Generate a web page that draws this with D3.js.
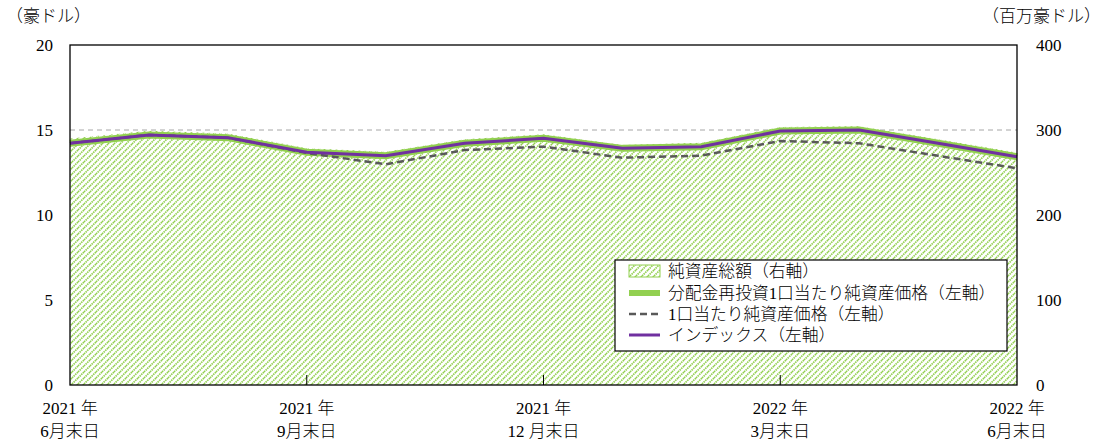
<!DOCTYPE html>
<html>
<head>
<meta charset="utf-8">
<script src="https://cdn.jsdelivr.net/npm/d3@7"></script>
<style>
  body { margin: 0; background: #fff; }
  svg { font-family: "Liberation Serif", "Noto Sans CJK JP", serif; font-weight: 300; }
</style>
</head>
<body>
<svg id="chart" width="1105" height="443"></svg>
<script>
// Data (month ends, Jun 2021 - Jun 2022)
const months = ["2021-06", "2021-07", "2021-08", "2021-09", "2021-10", "2021-11", "2021-12",
  "2022-01", "2022-02", "2022-03", "2022-04", "2022-05", "2022-06"];
const netAssets = [290, 299, 296, 278.5, 274.5, 289, 295, 282.5, 285, 303.5, 304.5, 289, 273.5];
const navReinvest = [14.22, 14.71, 14.55, 13.69, 13.49, 14.22, 14.51, 13.92, 14.02, 14.94, 15.0, 14.22, 13.43];
const navPerUnit = [14.22, 14.71, 14.55, 13.65, 12.98, 13.82, 14.02, 13.37, 13.49, 14.35, 14.22, 13.48, 12.75];
const indexLine = [14.22, 14.71, 14.55, 13.69, 13.49, 14.22, 14.51, 13.92, 14.02, 14.94, 15.0, 14.22, 13.43];
const xTickIdx = [0, 3, 6, 9, 12];
const xTickYear = ["2021 年", "2021 年", "2021 年", "2022 年", "2022 年"];
const xTickMonth = ["6月末日", "9月末日", "12 月末日", "3月末日", "6月末日"];
const leftTicks = [0, 5, 10, 15, 20];
const rightTicks = [0, 100, 200, 300, 400];
const legendLabels = ["純資産総額（右軸）", "分配金再投資1口当たり純資産価格（左軸）", "1口当たり純資産価格（左軸）", "インデックス（左軸）"];

const svg = d3.select("#chart");
const pLeft = 70, pRight = 1017, pTop = 45, pBottom = 385;

const x = d3.scalePoint().domain(months).range([pLeft, pRight]);
const yL = d3.scaleLinear().domain([0, 20]).range([pBottom, pTop]);
const yR = d3.scaleLinear().domain([0, 400]).range([pBottom, pTop]);

// hatch pattern
const defs = svg.append("defs");
const pat = defs.append("pattern")
  .attr("id", "hatch")
  .attr("patternUnits", "userSpaceOnUse")
  .attr("width", 6).attr("height", 6);
pat.append("rect").attr("width", 6).attr("height", 6).attr("fill", "#fff");
pat.append("path")
  .attr("d", "M-1,1 l2,-2 M0,6 l6,-6 M5,7 l2,-2")
  .attr("stroke", "#92d050").attr("stroke-width", 1.7)
  .attr("stroke-dasharray", "1.5,0.8");

// area
svg.append("path")
  .datum(netAssets)
  .attr("fill", "url(#hatch)")
  .attr("d", d3.area()
    .x((d, i) => x(months[i]))
    .y0(pBottom)
    .y1(d => yR(d)));

// gridline at 15
svg.append("line")
  .attr("x1", pLeft).attr("x2", pRight)
  .attr("y1", yL(15)).attr("y2", yL(15))
  .attr("stroke", "#a6a6a6").attr("stroke-width", 1)
  .attr("stroke-dasharray", "5,4");

const line = d3.line().x((d, i) => x(months[i])).y(d => yL(d));

svg.append("path").datum(navReinvest)
  .attr("fill", "none").attr("stroke", "#92d050").attr("stroke-width", 7)
  .attr("d", line);
svg.append("path").datum(navPerUnit)
  .attr("fill", "none").attr("stroke", "#595959").attr("stroke-width", 2.5)
  .attr("stroke-dasharray", "7,4")
  .attr("d", line);
svg.append("path").datum(indexLine)
  .attr("fill", "none").attr("stroke", "#7030a0").attr("stroke-width", 3)
  .attr("d", line);

// frame
svg.append("rect")
  .attr("x", pLeft).attr("y", pTop)
  .attr("width", pRight - pLeft).attr("height", pBottom - pTop)
  .attr("fill", "none").attr("stroke", "#000").attr("stroke-width", 1.3);

// x ticks (inside)
svg.append("g").selectAll("line")
  .data(xTickIdx.slice(1, -1))
  .join("line")
  .attr("x1", i => x(months[i])).attr("x2", i => x(months[i]))
  .attr("y1", pBottom).attr("y2", pBottom - 10)
  .attr("stroke", "#000").attr("stroke-width", 1);

// x labels
const xl = svg.append("g").attr("font-size", 17).attr("fill", "#000").attr("text-anchor", "middle");
xl.selectAll("text.yr").data(xTickIdx).join("text")
  .attr("class", "yr")
  .attr("x", i => x(months[i])).attr("y", 414)
  .text((d, k) => xTickYear[k]);
xl.selectAll("text.mo").data(xTickIdx).join("text")
  .attr("class", "mo")
  .attr("x", i => x(months[i])).attr("y", 437)
  .text((d, k) => xTickMonth[k]);

// y labels
svg.append("g").attr("font-size", 17).attr("text-anchor", "end")
  .selectAll("text").data(leftTicks).join("text")
  .attr("x", 53).attr("y", d => yL(d) + 6).text(d => d);
svg.append("g").attr("font-size", 17).attr("text-anchor", "start")
  .selectAll("text").data(rightTicks).join("text")
  .attr("x", 1036).attr("y", d => yR(d) + 6).text(d => d);

svg.append("text").attr("x", 6).attr("y", 22).attr("font-size", 17).text("（豪ドル）");
svg.append("text").attr("x", 1101).attr("y", 22).attr("font-size", 17)
  .attr("text-anchor", "end").text("（百万豪ドル）");

// legend
const lg = svg.append("g");
lg.append("rect").attr("x", 615).attr("y", 260).attr("width", 392).attr("height", 91)
  .attr("fill", "#fff").attr("stroke", "#000").attr("stroke-width", 1.2);
const rowY = [271, 293, 314, 335];
lg.append("rect").attr("x", 629).attr("y", rowY[0] - 6).attr("width", 31).attr("height", 12)
  .attr("fill", "url(#hatch)").attr("stroke", "#92d050").attr("stroke-width", 1);
lg.append("line").attr("x1", 629).attr("x2", 660).attr("y1", rowY[1]).attr("y2", rowY[1])
  .attr("stroke", "#92d050").attr("stroke-width", 6);
lg.append("line").attr("x1", 629).attr("x2", 660).attr("y1", rowY[2]).attr("y2", rowY[2])
  .attr("stroke", "#595959").attr("stroke-width", 2.5).attr("stroke-dasharray", "7,4");
lg.append("line").attr("x1", 629).attr("x2", 660).attr("y1", rowY[3]).attr("y2", rowY[3])
  .attr("stroke", "#7030a0").attr("stroke-width", 3);
lg.selectAll("text").data(legendLabels).join("text")
  .attr("x", 668).attr("y", (d, i) => rowY[i] + 6)
  .attr("font-size", 16.8).text(d => d);
</script>
</body>
</html>
